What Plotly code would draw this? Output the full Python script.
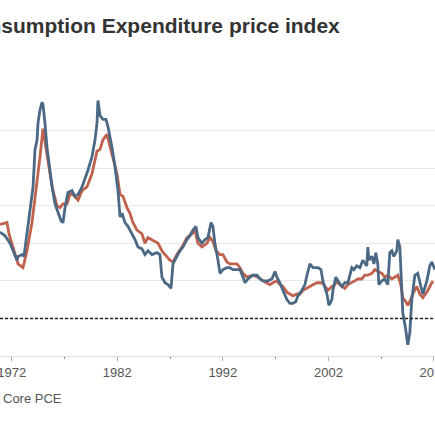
import plotly.graph_objects as go

# Headline PCE, year-over-year % change
pce_years = [1970.89, 1971.37, 1971.84, 1972.12, 1972.50, 1972.60, 1972.98, 1973.16, 1973.45, 1973.73,
             1974.02, 1974.21, 1974.40, 1974.49, 1974.68, 1974.87, 1974.96, 1975.15, 1975.34, 1975.53,
             1975.82, 1976.10, 1976.38, 1976.67, 1976.86, 1977.05, 1977.33, 1977.71, 1977.99, 1978.28,
             1978.66, 1978.94, 1979.23, 1979.60, 1979.89, 1980.08, 1980.17, 1980.36, 1980.64, 1980.93,
             1981.12, 1981.50, 1981.78, 1982.07, 1982.26, 1982.45, 1982.73, 1983.01, 1983.39, 1983.68,
             1983.96, 1984.34, 1984.62, 1984.91, 1985.29, 1985.76, 1986.04, 1986.23, 1986.52, 1986.80,
             1987.09, 1987.28, 1987.65, 1987.94, 1988.22, 1988.60, 1988.88, 1989.17, 1989.45, 1989.64,
             1990.02, 1990.31, 1990.59, 1990.88, 1991.06, 1991.25, 1991.54, 1991.73, 1992.01, 1992.39,
             1992.67, 1992.96, 1993.34, 1993.62, 1993.91, 1994.10, 1994.38, 1994.85, 1995.23, 1995.52,
             1995.80, 1996.27, 1996.65, 1996.94, 1997.12, 1997.41, 1997.69, 1998.07, 1998.35, 1998.64,
             1998.92, 1999.11, 1999.49, 1999.78, 1999.97, 2000.25, 2000.54, 2000.73, 2001.01, 2001.30,
             2001.48, 2001.86, 2002.05, 2002.33, 2002.43, 2002.71, 2002.90, 2003.28, 2003.56, 2003.85,
             2004.04, 2004.22, 2004.41, 2004.69, 2004.98, 2005.26, 2005.64, 2005.74, 2005.83, 2006.12,
             2006.31, 2006.49, 2006.68, 2006.78, 2007.06, 2007.34, 2007.63, 2007.82, 2008.01, 2008.20,
             2008.48, 2008.58, 2008.77, 2008.95, 2009.05, 2009.33, 2009.52, 2009.71, 2009.90, 2010.19,
             2010.47, 2010.76, 2010.95, 2011.33, 2011.61, 2011.80, 2012.09]
pce_values = [4.6, 4.4, 4.0, 3.6, 3.1, 3.3, 3.4, 3.3, 4.5, 5.6,
              7.0, 9.0, 9.5, 10.4, 11.1, 11.5, 11.4, 10.4, 9.1, 8.3,
              7.0, 6.1, 5.6, 5.2, 5.1, 5.9, 6.7, 6.8, 6.5, 6.6,
              7.0, 7.4, 7.9, 8.6, 9.5, 10.4, 11.6, 10.8, 10.6, 10.6,
              10.2, 9.1, 8.1, 6.8, 5.4, 5.6, 5.1, 4.9, 4.5, 4.2,
              3.8, 3.7, 3.4, 3.6, 3.4, 3.5, 3.4, 2.2, 1.9, 1.8,
              1.6, 2.9, 3.3, 3.6, 3.8, 4.2, 4.4, 4.7, 4.9, 4.3,
              4.0, 4.2, 4.3, 5.1, 4.9, 4.0, 3.1, 2.4, 2.6, 2.7,
              2.7, 2.6, 2.6, 2.6, 2.2, 1.9, 2.1, 2.3, 2.3, 2.1,
              2.0, 2.0, 2.1, 2.5, 2.2, 1.9, 1.5, 1.0, 0.8, 0.8,
              0.9, 1.2, 1.5, 1.8, 2.3, 2.9, 2.7, 2.7, 2.7, 2.6,
              2.0, 1.3, 0.7, 1.0, 1.5, 2.2, 2.0, 1.7, 1.9, 1.9,
              2.4, 2.7, 2.6, 2.8, 2.7, 3.1, 2.8, 3.8, 3.1, 3.3,
              2.9, 3.5, 2.9, 1.8, 2.0, 2.1, 1.8, 3.5, 3.6, 3.3,
              3.6, 4.2, 3.8, 1.7, 0.3, -0.6, -1.4, -0.8, 1.0, 2.3,
              2.4, 1.7, 1.3, 2.0, 2.8, 3.0, 2.6]

# Core PCE, year-over-year % change
core_years = [1970.89, 1971.55, 1971.74, 1972.12, 1972.60, 1973.07, 1973.45, 1973.92, 1974.40, 1974.68,
              1974.96, 1975.34, 1975.63, 1975.91, 1976.29, 1976.57, 1976.86, 1977.24, 1977.52, 1977.80,
              1978.28, 1978.66, 1979.13, 1979.60, 1980.08, 1980.36, 1980.64, 1981.02, 1981.31, 1981.59,
              1981.97, 1982.26, 1982.54, 1982.92, 1983.20, 1983.49, 1983.87, 1984.34, 1984.62, 1984.91,
              1985.29, 1985.57, 1985.86, 1986.23, 1986.52, 1986.99, 1987.28, 1987.65, 1988.13, 1988.60,
              1989.07, 1989.36, 1989.64, 1990.02, 1990.49, 1990.78, 1991.06, 1991.35, 1991.73, 1992.01,
              1992.39, 1992.67, 1993.34, 1993.62, 1993.91, 1994.29, 1994.85, 1995.32, 1995.80, 1996.17,
              1996.46, 1996.74, 1997.12, 1997.41, 1997.69, 1998.07, 1998.35, 1998.64, 1999.02, 1999.30,
              1999.59, 1999.97, 2000.25, 2000.54, 2000.92, 2001.39, 2001.67, 2001.96, 2002.33, 2002.62,
              2002.81, 2002.90, 2003.28, 2003.56, 2003.85, 2004.22, 2004.50, 2004.79, 2005.17, 2005.45,
              2005.74, 2006.12, 2006.40, 2006.68, 2007.06, 2007.34, 2007.63, 2008.01, 2008.29, 2008.58,
              2008.86, 2009.05, 2009.33, 2009.52, 2009.80, 2009.99, 2010.37, 2010.66, 2010.95, 2011.33,
              2011.61, 2011.90]
core_values = [5.0, 5.1, 4.5, 3.8, 2.9, 2.7, 3.6, 5.1, 7.2, 8.6,
               10.1, 8.6, 7.7, 6.8, 6.0, 5.9, 6.1, 6.1, 6.6, 6.6,
               6.3, 6.8, 7.0, 7.7, 8.9, 9.0, 9.5, 9.8, 9.2, 8.6,
               7.7, 6.6, 6.5, 5.9, 5.6, 5.1, 4.7, 4.5, 4.0, 4.3,
               4.2, 4.1, 4.0, 3.6, 3.4, 3.1, 3.0, 3.4, 3.8, 4.3,
               4.5, 4.7, 4.0, 3.8, 4.0, 4.3, 4.1, 3.6, 3.4, 3.4,
               3.0, 2.9, 2.9, 2.7, 2.4, 2.2, 2.3, 2.2, 2.0, 1.9,
               1.8, 1.9, 2.0, 1.8, 1.7, 1.4, 1.3, 1.2, 1.3, 1.3,
               1.5, 1.6, 1.7, 1.8, 1.9, 1.9, 1.7, 1.5, 1.7, 1.8,
               2.1, 1.9, 1.7, 1.6, 1.8, 1.9, 2.0, 2.1, 2.1, 2.3,
               2.3, 2.4, 2.6, 2.5, 2.4, 2.2, 2.3, 2.1, 2.2, 2.3,
               1.8, 1.1, 0.9, 0.7, 1.0, 1.3, 1.7, 1.3, 1.1, 1.4,
               1.7, 2.0]

tick_years = [1972, 1982, 1992, 2002, 2012]
tick_labels = ["1972", "1982", "1992", "2002", "2012"]
grid_values = [-2, 0, 2, 4, 6, 8, 10, 12]

title_text = "Personal Consumption Expenditure price index"
legend_text = "Core PCE"

BLUE = "#4b6984"
RED = "#c0614b"

fig = go.Figure()
fig.add_trace(go.Scatter(x=core_years, y=core_values, mode="lines", name="Core PCE",
                         line=dict(color=RED, width=2.8), hoverinfo="skip"))
fig.add_trace(go.Scatter(x=pce_years, y=pce_values, mode="lines", name="PCE",
                         line=dict(color=BLUE, width=2.8), hoverinfo="skip"))

fig.add_shape(type="line", xref="paper", x0=0, x1=1, yref="y", y0=0, y1=0,
              line=dict(color="#222222", width=1.6, dash="3px,2px"), layer="above")

fig.update_layout(
    template="none",
    width=435, height=435,
    margin=dict(l=0, r=0, t=93, b=79, pad=0, autoexpand=False),
    paper_bgcolor="white", plot_bgcolor="white",
    showlegend=False,
    font=dict(family="Liberation Sans, Arial, sans-serif", color="#555555"),
    xaxis=dict(range=[1970.89, 2012.1], tickvals=tick_years, ticktext=tick_labels,
               automargin=False,
               ticks="outside", ticklen=4, tickcolor="#aaaaaa", tickwidth=1,
               tickfont=dict(size=13, color="#555555"),
               ticklabeloverflow="allow",
               showgrid=False, zeroline=False,
               showline=True, linecolor="#dddddd", linewidth=1,
               minor=dict(tickvals=[1977, 1987, 1997, 2007], ticks="outside",
                          ticklen=1.5, tickcolor="#888888", tickwidth=1)),
    yaxis=dict(range=[-2, 12], tickvals=grid_values, showticklabels=False,
               automargin=False,
               showgrid=True, gridcolor="#e8e8e8", gridwidth=1, zeroline=False,
               ticks=""),
)

fig.add_annotation(text="<b>" + title_text + "</b>", xref="paper", yref="paper",
                   x=-0.312, y=1.255, xanchor="left", yanchor="middle", showarrow=False,
                   font=dict(size=21, color="#333333", family="Liberation Sans, Arial, sans-serif"))
fig.add_annotation(text=legend_text, xref="paper", yref="paper",
                   x=0.002, y=-0.163, xanchor="left", yanchor="middle", showarrow=False,
                   font=dict(size=13, color="#555555", family="Liberation Sans, Arial, sans-serif"))

fig.write_html("out.html", config={"displayModeBar": False},
               post_script="document.body.style.margin='0';document.body.style.overflow='hidden';")
